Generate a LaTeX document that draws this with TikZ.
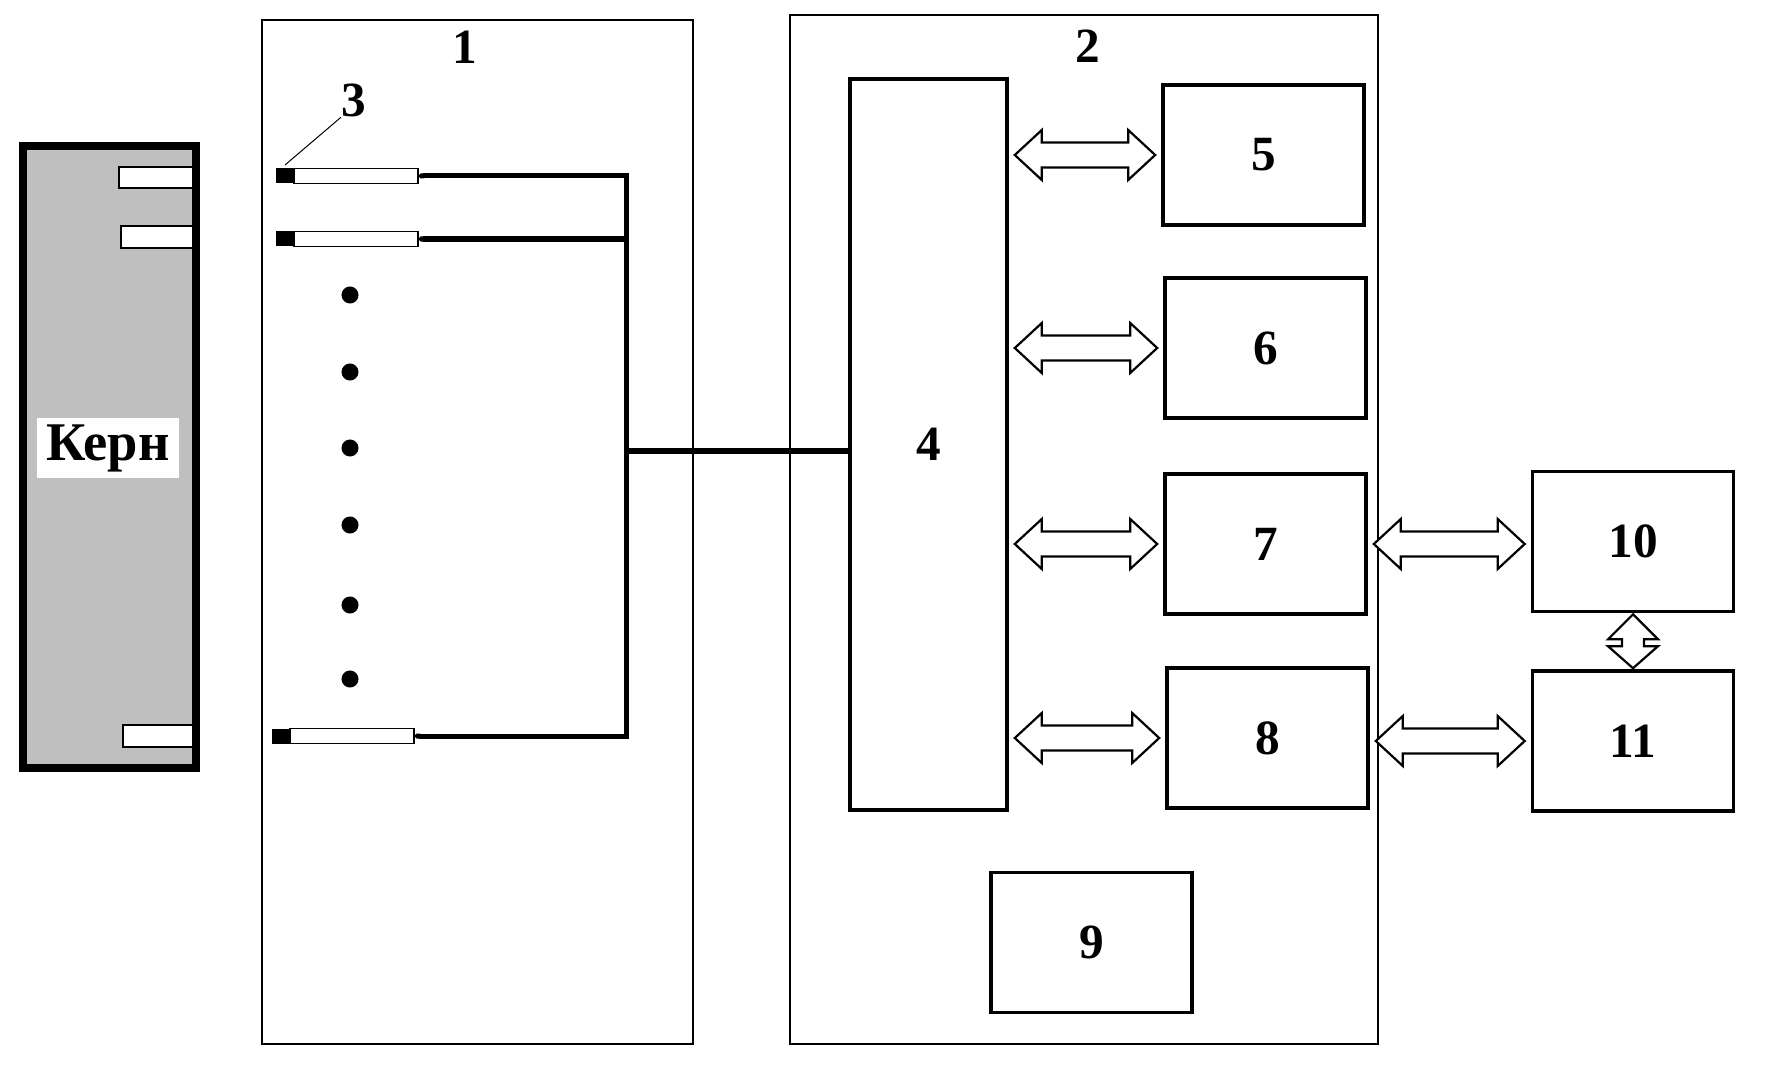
\documentclass[tikz,border=0pt]{standalone}
\usepackage{fontspec}
\setmainfont{Liberation Serif}
\usetikzlibrary{calc, arrows.meta}
\definecolor{coregrey}{rgb}{0.75, 0.75, 0.75}

\tikzset{
  block/.style={draw, line width=0.035cm, minimum width=2.01cm, minimum height=1.40cm,
    font=\fontsize{14}{16}\selectfont\bfseries},
  num/.style={inner sep=0pt, font=\fontsize{14}{16}\selectfont\bfseries},
  frame/.style={draw, line width=0.018cm},
  wire/.style={line width=0.05cm},
  dbl/.style={draw, fill=white, line width=0.022cm, line join=miter},
}

% double arrow between two blocks, at the height of #3
\newcommand{\linkh}[3]{%
  \path ($(#1.east |- #3.center)+(6,0)$) coordinate (ta) ($(#2.west |- #3.center)+(-6,0)$) coordinate (tb);
  \draw[dbl] (ta) -- ++(27,-25) -- ++(0,12.5) -- ($(tb)+(-27,-12.5)$) -- ++(0,-12.5) -- (tb)
    -- ++(-27,25) -- ++(0,-12.5) -- ($(ta)+(27,12.5)$) -- ++(0,12.5) -- cycle;}

\begin{document}
\begin{tikzpicture}[x=0.01cm, y=-0.01cm]
\useasboundingbox (0,0) rectangle (1772,1088);
%the core sample
\fill [coregrey] (23,146) rectangle (196,768);
\foreach \xa/\ya/\yb in {119/167/188, 121/226/248, 123/725/747}
  \draw [fill=white, line width=0.012cm] (\xa,\ya) rectangle (196,\yb);
\draw [line width=0.085cm] (23,146) rectangle (196,768);
\node [num, fill=white, minimum width=1.42cm, minimum height=0.59cm,
  font=\fontsize{15.5}{17}\selectfont\bfseries] (core) at (108,448) {Керн};

%unit 1 with the probes
\draw [frame] (262,20) rectangle (693,1044);
\node [num] (l1) at (465,47) {1};
\foreach \n/\xa/\y in {1/276/176, 2/276/239, 3/272/736} {
  \fill (\xa,\y-7.5) rectangle (\xa+18,\y+7.5);
  \draw [fill=white, line width=0.012cm] (\xa+18,\y-7.5) rectangle (\xa+142,\y+7.5);
  \coordinate (p\n) at (\xa+142,\y);
}
\foreach \y in {295,372,448,525,605,679}
  \fill (350,\y) circle [radius=0.085cm];
\node [num] (l3) at (354,100) {3};
\draw [line width=0.01cm] (285,165) -- (l3.south west);

%unit 2
\draw [frame] (790,15) rectangle (1378,1044);
\node [num] (l2) at (1088,46) {2};
\node [block, minimum width=1.57cm, minimum height=7.31cm] (b4) at (928.5,444.5) {4};
\node [block] (b5) at (1263.5,155) {5};
\node [block] (b6) at (1265.5,348) {6};
\node [block] (b7) at (1265.5,544) {7};
\node [block] (b8) at (1267.5,738) {8};
\node [block] (b9) at (1091.5,942.5) {9};
\node [block] (b10) at (1633,541.5) {10};
\node [block] (b11) at (1633,741) {11};

%the wires
\coordinate (jn) at (626,451);
\draw [wire, {Triangle Cap}-] (p1) -| (jn);
\draw [wire, {Triangle Cap}-] (p2) -- (p2 -| jn);
\draw [wire, {Triangle Cap}-] (p3) -| (jn);
\draw [wire] (jn) -- (b4.west |- jn);

%the links
\linkh{b4}{b5}{b5}
\linkh{b4}{b6}{b6}
\linkh{b4}{b7}{b7}
\linkh{b4}{b8}{b8}
\linkh{b7}{b10}{b7}
\linkh{b8}{b11}{b11}
\path ($(b10.south)+(0,1)$) coordinate (tc) ($(b11.north)+(0,-1)$) coordinate (td);
\draw [dbl] (tc) -- ++(25,25) -- ++(-14,0) -- ($(td)+(11,-22)$) -- ++(14,0) -- (td)
  -- ++(-25,-22) -- ++(14,0) -- ($(tc)+(-11,25)$) -- ++(-14,0) -- cycle;
\end{tikzpicture}
\end{document}
